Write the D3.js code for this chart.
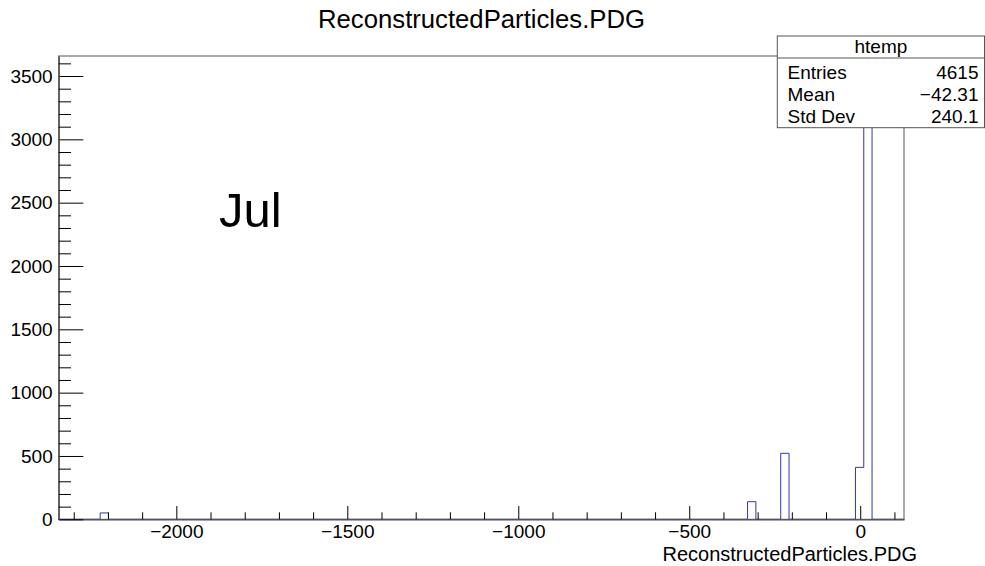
<!DOCTYPE html>
<html>
<head>
<meta charset="utf-8">
<script src="https://cdn.jsdelivr.net/npm/d3@7/dist/d3.min.js"></script>
<style>
  html, body { margin: 0; padding: 0; background: #fff; }
  svg { display: block; }
  text { font-family: "Liberation Sans", Arial, Helvetica, sans-serif; fill: #000; }
</style>
</head>
<body>
<svg id="chart" width="985" height="566"></svg>
<script>
// ---------------- data ----------------
const chartTitle = "ReconstructedParticles.PDG";
const xAxisTitle = "ReconstructedParticles.PDG";
const overlayLabel = "Jul";
const xDomain = [-2344, 128];
const yDomain = [0, 3658];
const binWidth = 24.3;
const binLow = [-2222.8, -329.5, -232.5, -14.0, 10.3];
const binCount = [50, 139, 521, 410, 3484];
const xMajorTicks = [-2000, -1500, -1000, -500, 0];
const xMinorTicks = [-2300, -2200, -2100, -1900, -1800, -1700, -1600, -1400, -1300, -1200, -1100, -900, -800, -700, -600, -400, -300, -200, -100, 100];
const yMajorTicks = [0, 500, 1000, 1500, 2000, 2500, 3000, 3500];
const yMinorTicks = [100, 200, 300, 400, 600, 700, 800, 900, 1100, 1200, 1300, 1400, 1600, 1700, 1800, 1900, 2100, 2200, 2300, 2400, 2600, 2700, 2800, 2900, 3100, 3200, 3300, 3400, 3600];
const statsName = "htemp";
const statsLabels = ["Entries", "Mean", "Std Dev"];
const statsValues = ["4615", "\u221242.31", "240.1"];

// ---------------- layout ----------------
const frame = { left: 58.7, right: 904, top: 56, bottom: 519.3 };
const histColor = "#3535a8";
const fmt = d => d < 0 ? "\u2212" + Math.abs(d) : String(d);

const svg = d3.select("#chart");
const x = d3.scaleLinear().domain(xDomain).range([frame.left, frame.right]);
const y = d3.scaleLinear().domain(yDomain).range([frame.bottom, frame.top]);

// frame
svg.append("rect")
  .attr("x", frame.left).attr("y", frame.top)
  .attr("width", frame.right - frame.left).attr("height", frame.bottom - frame.top)
  .attr("fill", "none").attr("stroke", "#555").attr("stroke-width", 1);

// histogram outline (step path)
const pts = [[xDomain[0], 0]];
binLow.forEach((lo, i) => {
  const hi = lo + binWidth;
  pts.push([lo, binCount[i]]);
  const next = binLow[i + 1];
  if (next === undefined || Math.abs(next - hi) > 1e-6) pts.push([hi, 0]);
});
pts.push([xDomain[1], 0]);
svg.append("path")
  .datum(pts)
  .attr("fill", "none")
  .attr("stroke", histColor)
  .attr("stroke-width", 1)
  .attr("d", d3.line().x(d => x(d[0])).y(d => y(d[1])).curve(d3.curveStepAfter));

// x axis
const xAxisG = svg.append("g").attr("transform", `translate(0,${frame.bottom})`);
xAxisG.call(d3.axisBottom(x).tickValues(xMajorTicks).tickSizeInner(-13.3).tickSizeOuter(0)
  .tickPadding(5).tickFormat(fmt));
xAxisG.selectAll(".tick text").attr("font-size", 19).attr("font-family", "Liberation Sans, Arial, sans-serif");
const xMinorG = svg.append("g").attr("transform", `translate(0,${frame.bottom})`);
xMinorG.call(d3.axisBottom(x).tickValues(xMinorTicks).tickSizeInner(-7).tickSizeOuter(0).tickFormat(""));
[xAxisG, xMinorG].forEach(g => { g.select(".domain").attr("stroke", "#555"); g.selectAll(".tick line").attr("stroke", "#000"); });

// y axis
const yAxisG = svg.append("g").attr("transform", `translate(${frame.left},0)`);
yAxisG.call(d3.axisLeft(y).tickValues(yMajorTicks).tickSizeInner(-24.6).tickSizeOuter(0)
  .tickPadding(6).tickFormat(fmt));
yAxisG.selectAll(".tick text").attr("font-size", 19).attr("font-family", "Liberation Sans, Arial, sans-serif");
const yMinorG = svg.append("g").attr("transform", `translate(${frame.left},0)`);
yMinorG.call(d3.axisLeft(y).tickValues(yMinorTicks).tickSizeInner(-12.3).tickSizeOuter(0).tickFormat(""));
[yAxisG, yMinorG].forEach(g => { g.select(".domain").attr("stroke", "#555"); g.selectAll(".tick line").attr("stroke", "#000"); });

// titles
svg.append("text").attr("x", 481.5).attr("y", 28).attr("text-anchor", "middle")
  .attr("font-size", 25.7).text(chartTitle);
svg.append("text").attr("x", 917).attr("y", 560.5).attr("text-anchor", "end")
  .attr("font-size", 20).text(xAxisTitle);
svg.append("text").attr("x", 219).attr("y", 227).attr("font-size", 49).text(overlayLabel);

// stats box
const sb = { left: 777.3, right: 984.5, top: 36, bottom: 127.7, sep: 58 };
const sg = svg.append("g");
sg.append("rect").attr("x", sb.left).attr("y", sb.top)
  .attr("width", sb.right - sb.left).attr("height", sb.bottom - sb.top)
  .attr("fill", "#fff").attr("stroke", "#555").attr("stroke-width", 1);
sg.append("line").attr("x1", sb.left).attr("x2", sb.right).attr("y1", sb.sep).attr("y2", sb.sep)
  .attr("stroke", "#555");
sg.append("text").attr("x", (sb.left + sb.right) / 2).attr("y", 52.5).attr("text-anchor", "middle")
  .attr("font-size", 19).text(statsName);
const rowBase = [78.5, 100.5, 122.5];
statsLabels.forEach((lab, i) => {
  sg.append("text").attr("x", 787.5).attr("y", rowBase[i]).attr("font-size", 19).text(lab);
  sg.append("text").attr("x", 978.5).attr("y", rowBase[i]).attr("text-anchor", "end").attr("font-size", 19).text(statsValues[i]);
});
</script>
</body>
</html>
